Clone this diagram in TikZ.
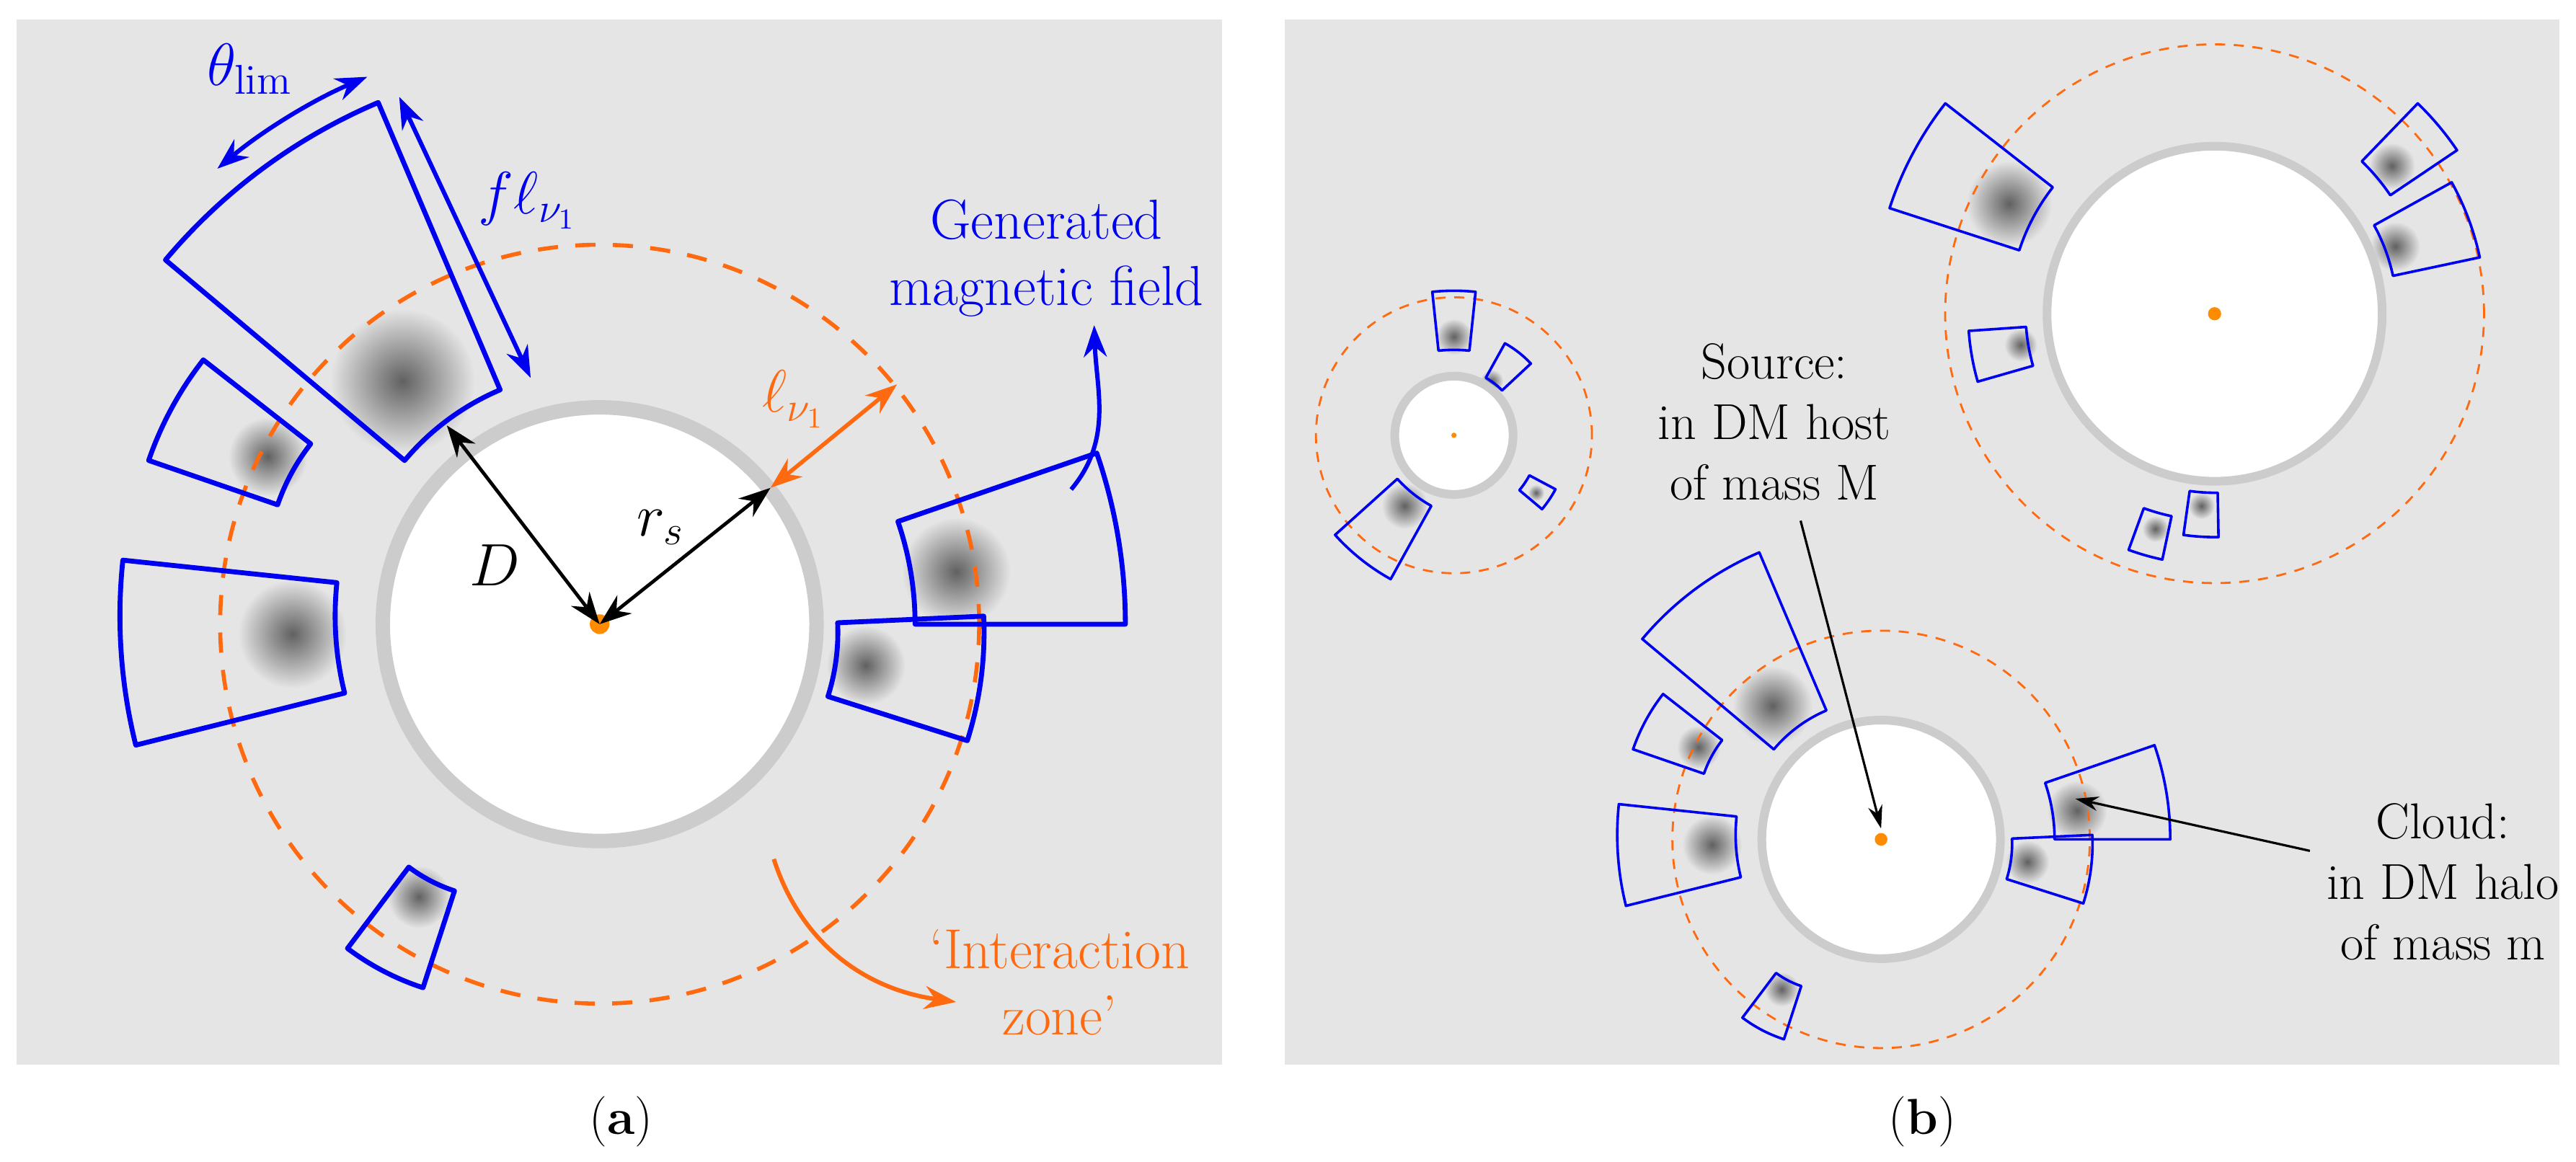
\documentclass[tikz,border=0pt]{standalone}
\usetikzlibrary{arrows.meta}
\definecolor{bg}{HTML}{E5E5E5}
\definecolor{ring}{HTML}{CCCCCC}
\definecolor{myblue}{HTML}{0000F0}
\definecolor{myor}{HTML}{FF6A10}
\definecolor{dot}{HTML}{FF8C00}
\newcommand\sect[5]{\draw[sec] ([shift={(#1)}]#2:#5) arc[start angle=#2,end angle=#3,radius=#5] -- ([shift={(#1)}]#3:#4) arc[start angle=#3,end angle=#2,radius=#4] -- cycle;}
\newcommand\blob[2]{\shade[inner color=black!62,outer color=bg] (#1) circle[radius=#2];}
\begin{document}
\begin{tikzpicture}[x=0.02cm,y=0.02cm,
  txt/.style={font=\fontsize{17.5}{21}\selectfont,align=center,inner sep=1pt},
  txa/.style={font=\fontsize{19.5}{23}\selectfont,align=center,inner sep=1pt},
  sec/.style={draw=myblue,line width=1.7pt,line join=round},
  dsh/.style={draw=myor,line width=1.4pt,dash pattern=on 7pt off 6pt},
  rng/.style={draw=ring,fill=white,line width=5pt},
  tip/.style={-{Stealth[length=11pt,width=8pt]}},
  dtip/.style={{Stealth[length=11pt,width=8pt]}-{Stealth[length=11pt,width=8pt]}}]
\useasboundingbox (0,0) rectangle (1568,707);
\fill[white] (0,0) rectangle (1568,707);
\fill[bg] (10,59) rectangle (744,695);
\fill[bg] (782,59) rectangle (1558,695);
% system A definition
\newcommand\sysA{%
  \blob{-120,148}{44}\blob{-202,102}{24}\blob{-187,-6}{33}\blob{-110,-166}{19}\blob{217,32}{33}\blob{162,-25}{24}
  \draw[dsh] (0,0) circle[radius=231];
  \draw[rng] (0,0) circle[radius=132];
  \sect{0,0}{113}{140}{155}{345}
  \sect{-75,31}{142}{161}{128}{211}
  \sect{33,5}{174}{194}{194}{325}
  \sect{-59,-72}{233}{252}{95}{157}
  \sect{0,0}{0}{19}{192}{320}
  \sect{16,-5}{-17.6}{2.6}{129}{218}}
% panel a
\begin{scope}[shift={(365,327)}]
  \sysA
  \fill[dot] (0,0) circle[radius=6];
  \coordinate (ca) at (0,0);
  \coordinate (dA) at (-93,121);
  \coordinate (rA) at (104,83);
  \coordinate (lA) at (181,146);
  \draw[myblue,line width=1.5pt,dtip] (130:362) arc[start angle=130,end angle=113,radius=362];
\end{scope}
\node[txa,text=myblue] (thl) at (152,665) {$\theta_{\mathrm{lim}}$};
\coordinate (f1) at (243,648); \coordinate (f2) at (323,477);
\draw[myblue,line width=1.5pt,dtip] (f1) -- (f2);
\node[txa,text=myblue] (fl) at (321,585) {$f\ell_{\nu_1}$};
\draw[black,line width=1.2pt,dtip] (dA) -- (ca);
\draw[black,line width=1.2pt,dtip] (ca) -- (rA);
\node[txa] (Dl) at (301,363) {$D$};
\node[txa] (rl) at (402,386) {$r_s$};
\draw[myor,line width=1.4pt,dtip] (rA) -- (lA);
\node[txa,text=myor] (ll) at (483,464) {$\ell_{\nu_1}$};
\node[txa,text=myblue] (gen) at (637,550) {Generated\\magnetic field};
\coordinate (g1) at (652,409); \coordinate (g2) at (666,509);
\draw[myblue,line width=1.5pt,tip] (g1) to[out=50,in=-88] (g2);
\coordinate (o1) at (471,184); \coordinate (o2) at (582,97);
\draw[myor,line width=1.5pt,tip] (o1) to[out=-72,in=172] (o2);
\node[txa,text=myor] (iz) at (645,109) {`Interaction\\zone'};
% panel b : bottom system
\begin{scope}[shift={(1145,196)},scale=0.55,sec/.style={draw=myblue,line width=0.9pt,line join=round},
  dsh/.style={draw=myor,line width=0.7pt,dash pattern=on 3.5pt off 3pt},
  rng/.style={draw=ring,fill=white,line width=3pt}]
  \sysA
  \fill[dot] (0,0) circle[radius=7];
  \coordinate (cb) at (0,12);
  \coordinate (cl) at (215,45);
\end{scope}
\begin{scope}[sec/.style={draw=myblue,line width=0.9pt,line join=round},
  dsh/.style={draw=myor,line width=0.7pt,dash pattern=on 3.5pt off 3pt},
  rng/.style={draw=ring,fill=white,line width=3pt}]
 \begin{scope}[shift={(1348,516)}]
  \blob{-125,67}{26}\blob{108,90}{14}\blob{110,41}{15}\blob{-118,-19}{10}\blob{-36,-131}{8}\blob{-8,-117}{8}
  \draw[dsh] (0,0) circle[radius=164];
  \draw[rng] (0,0) circle[radius=102];
  \sect{0,0}{142}{162}{125}{208}
  \sect{0,0}{34}{46}{129}{178}
  \sect{0,0}{12}{29}{111}{165}
  \sect{0,0}{184}{196}{115}{150}
  \sect{0,0}{250}{258}{126}{153}
  \sect{0,0}{262}{271}{109}{136}
  \fill[dot] (0,0) circle[radius=4];
 \end{scope}
 \begin{scope}[shift={(885,442)}]
  \blob{0,60}{11}\blob{23,33}{7}\blob{50,-35}{5}\blob{-30,-43}{14}
  \draw[dsh] (0,0) circle[radius=84];
  \draw[rng] (0,0) circle[radius=36];
  \sect{0,-38}{84}{96}{90}{126}
  \sect{0,0}{43}{61}{40}{64}
  \sect{0,0}{-40}{-28}{52}{70}
  \sect{25,27}{222}{241}{80}{131}
  \fill[dot] (0,0) circle[radius=1.6];
 \end{scope}
\end{scope}
\node[txt] (src) at (1080,450) {Source:\\in DM host\\of mass M};
\coordinate (s1) at (1096,390);
\draw[line width=0.8pt,-{Stealth[length=8pt,width=5pt]}] (s1) -- (cb);
\node[txt] (cld) at (1487,170) {Cloud:\\in DM halo\\of mass m};
\coordinate (c1) at (1406,189);
\draw[line width=0.8pt,-{Stealth[length=8pt,width=5pt]}] (c1) -- (cl);
\node[txt] (la) at (378,24) {(\textbf{a})};
\node[txt] (lb) at (1170,24) {(\textbf{b})};
\end{tikzpicture}
\end{document}
